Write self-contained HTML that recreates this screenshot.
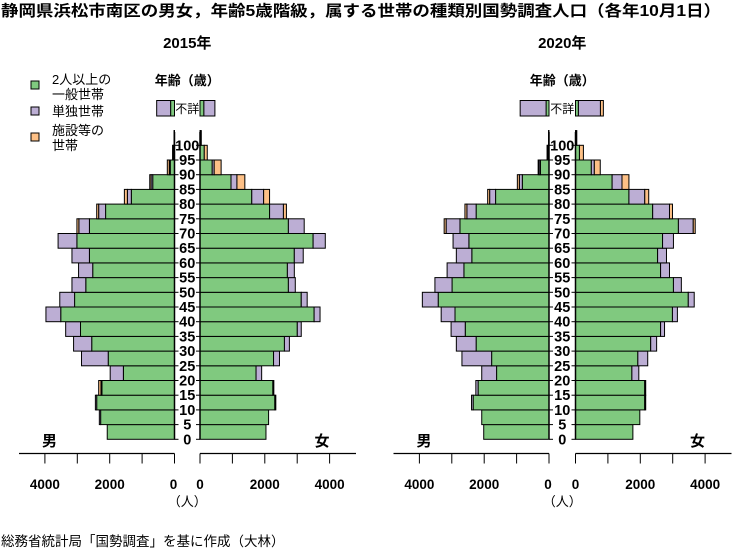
<!DOCTYPE html>
<html><head><meta charset="utf-8">
<style>
html,body{margin:0;padding:0;background:#fff;}
svg{display:block;font-family:"Liberation Sans","Noto Sans CJK JP",sans-serif;}
</style></head>
<body>
<svg id="chart" width="750" height="550" viewBox="0 0 750 550" xmlns="http://www.w3.org/2000/svg">
<text x="1" y="16" font-size="15.5" font-weight="bold" textLength="720" lengthAdjust="spacingAndGlyphs">静岡県浜松市南区の男女，年齢5歳階級，属する世帯の種類別国勢調査人口（各年10月1日）</text>
<g font-size="13">
<rect x="31" y="81" width="8" height="8" fill="#80c97f" stroke="#000" stroke-width="1"/>
<text x="52" y="84">2人以上の</text>
<text x="52" y="99">一般世帯</text>
<rect x="31" y="107" width="8" height="8" fill="#bcaed4" stroke="#000" stroke-width="1"/>
<text x="52" y="116">単独世帯</text>
<rect x="31" y="133" width="8" height="8" fill="#fdc086" stroke="#000" stroke-width="1"/>
<text x="52" y="135">施設等の</text>
<text x="52" y="150">世帯</text>
</g>
<text x="1" y="546" font-size="13.5">総務省統計局「国勢調査」を基に作成（大林）</text>
<g id="panels"></g>
</svg>
<script>
const ageLabels = ["0","5","10","15","20","25","30","35","40","45","50","55","60","65","70","75","80","85","90","95","100"];
const axisTicks = [0, 1000, 2000, 3000, 4000];
const axisTickLabels = ["0", "2000", "4000"];
const years = ["2015年", "2020年"];
// 2015 (ages 0-4 ... 95-99, 100+)
const m2015G = [2076,2280,2402,2240,1578,2046,2555,2901,3511,3084,2738,2524,2626,3013,2626,2127,1333,672,132,30,5];
const m2015P = [0,40,40,30,407,824,560,458,457,457,427,437,539,580,326,214,122,51,30,0,3];
const m2015O = [0,0,0,70,0,0,0,0,0,0,0,0,0,0,60,60,92,41,60,30,5];
const f2015G = [2036,2117,2310,2249,1730,2270,2606,3003,3522,3125,2728,2697,2911,3491,2728,2148,1598,957,377,132,10];
const f2015P = [0,0,30,30,173,183,153,122,183,183,213,214,275,376,488,427,366,183,61,0,5];
const f2015O = [0,0,0,0,0,0,0,0,0,0,0,0,0,0,0,92,183,244,214,92,25];
// 2020
const m2020G = [2015,2076,2341,2188,1618,1771,2249,2585,2901,3420,2992,2626,2382,2473,2748,2249,1649,824,265,30,5];
const m2020P = [0,0,50,70,458,916,611,437,427,489,529,519,478,488,427,285,183,92,40,0,3];
const m2020O = [0,0,0,0,0,0,0,0,0,0,0,0,0,0,61,61,61,61,30,30,5];
const f2020G = [1771,1985,2137,2137,1740,1924,2321,2626,2992,3481,3023,2626,2534,2687,3176,2382,1649,1130,489,122,10];
const f2020P = [0,0,30,30,214,305,183,122,153,183,244,275,274,336,458,519,489,305,92,0,5];
const f2020O = [0,0,0,0,0,0,0,0,0,0,0,0,0,0,61,92,122,214,183,122,25];
// unknown-age (不詳) values [green, purple, orange]
const unk2015M = [120, 430, 0];
const unk2015F = [120, 340, 0];
const unk2020M = [90, 800, 0];
const unk2020F = [90, 680, 90];

const NS = "http://www.w3.org/2000/svg";
const K = 0.0324;           // px per person
const Y0 = 439.3, BH = 14.7;
const COLORS = ["#80c97f", "#bcaed4", "#fdc086"];
const root = document.getElementById("panels");

function mk(tag, attrs, parent) {
  const e = document.createElementNS(NS, tag);
  for (const k in attrs) e.setAttribute(k, attrs[k]);
  parent.appendChild(e);
  return e;
}
function yOf(i) { return Y0 - i * BH; }

const panels = [
  {year: years[0], lx: 174.5, rx: 200, m: [m2015G, m2015P, m2015O], f: [f2015G, f2015P, f2015O], um: unk2015M, uf: unk2015F},
  {year: years[1], lx: 549, rx: 575.5, m: [m2020G, m2020P, m2020O], f: [f2020G, f2020P, f2020O], um: unk2020M, uf: unk2020F}
];

panels.forEach((p, pi) => {
  const g = mk("g", {}, root);
  
  
  const cx = (p.lx + p.rx) / 2;
  const t = mk("text", {x: cx, y: 48, "text-anchor": "middle", "font-size": "15", "font-weight": "bold"}, g);
  
  
  t.textContent = p.year;
  const at = mk("text", {x: cx, y: 85, "text-anchor": "middle", "font-size": "13", "font-weight": "bold"}, g);
  
  
  at.textContent = "年齢（歳）";

  // bars
  for (let i = 0; i < ageLabels.length; i++) {
    const yTop = yOf(i + 1), h = BH;
    [[p.m, -1, p.lx], [p.f, 1, p.rx]].forEach(([ser, dir, base]) => {
      let acc = 0;
      for (let s = 0; s < 3; s++) {
        const v = ser[s][i];
        if (v <= 0) continue;
        const x1 = base + dir * acc * K, x2 = base + dir * (acc + v) * K;
        const r = mk("rect", {x: Math.min(x1, x2), y: yTop, width: Math.abs(x2 - x1), height: h, fill: COLORS[s], stroke: "#000", "stroke-width": "1"}, g);
        
        
        acc += v;
      }
    });
  }
  // unknown age bars
  [[p.um, -1, p.lx], [p.uf, 1, p.rx]].forEach(([vals, dir, base]) => {
    let acc = 0;
    for (let s = 0; s < 3; s++) {
      const v = vals[s];
      if (v <= 0) continue;
      const x1 = base + dir * acc * K, x2 = base + dir * (acc + v) * K;
      const r = mk("rect", {x: Math.min(x1, x2), y: 100.5, width: Math.abs(x2 - x1), height: 15.5, fill: COLORS[s], stroke: "#000", "stroke-width": "1"}, g);
      
      
      acc += v;
    }
  });
  const ut = mk("text", {x: cx, y: 113, "text-anchor": "middle", "font-size": "12"}, g);
  
  
  ut.textContent = "不詳";

  // vertical axes
  [p.lx, p.rx].forEach((x, k) => {
    const l = mk("line", {x1: x, y1: 132, x2: x, y2: Y0, stroke: "#000", "stroke-width": "1.5"}, g);
    
    
  });
  // age labels and ticks
  ageLabels.forEach((lab, i) => {
    const y = yOf(i);
    mk("line", {x1: p.lx, y1: y, x2: p.lx + 4, y2: y, stroke: "#000", "stroke-width": "1"}, g);
    mk("line", {x1: p.rx - 4, y1: y, x2: p.rx, y2: y, stroke: "#000", "stroke-width": "1"}, g);
    const tx = mk("text", {x: cx, y: y + 5, "text-anchor": "middle", "font-size": "14.5", "font-weight": "bold"}, g);
    
    
    tx.textContent = lab;
  });
  // sex labels
  const ml = mk("text", {x: p.lx - 125, y: 446, "text-anchor": "middle", "font-size": "15", "font-weight": "bold"}, g);
  
  
  ml.textContent = "男";
  const fl = mk("text", {x: p.rx + 122, y: 446, "text-anchor": "middle", "font-size": "15", "font-weight": "bold"}, g);
  
  
  fl.textContent = "女";

  // horizontal axes
  const AY = 453.5;
  const lax = mk("line", {x1: p.lx - 155.5, y1: AY, x2: p.lx, y2: AY, stroke: "#000", "stroke-width": "1.2"}, g);
  
  
  const rax = mk("line", {x1: p.rx, y1: AY, x2: p.rx + 156, y2: AY, stroke: "#000", "stroke-width": "1.2"}, g);
  
  
  axisTicks.forEach(v => {
    mk("line", {x1: p.lx - v * K, y1: AY, x2: p.lx - v * K, y2: AY + 10, stroke: "#000", "stroke-width": "1"}, g);
    mk("line", {x1: p.rx + v * K, y1: AY, x2: p.rx + v * K, y2: AY + 10, stroke: "#000", "stroke-width": "1"}, g);
  });
  axisTickLabels.forEach(lab => {
    const v = +lab;
    const a = mk("text", {x: p.lx - v * K - (v === 0 ? 1 : 0), y: 489, "text-anchor": "middle", "font-size": "13.5", "font-weight": "bold"}, g);
    
    
    a.textContent = lab;
    const b = mk("text", {x: p.rx + v * K, y: 489, "text-anchor": "middle", "font-size": "13.5", "font-weight": "bold"}, g);
    
    
    b.textContent = lab;
  });
  const un = mk("text", {x: cx, y: 506, "text-anchor": "middle", "font-size": "13"}, g);
  
  
  un.textContent = "（人）";
});
</script>
</body></html>
